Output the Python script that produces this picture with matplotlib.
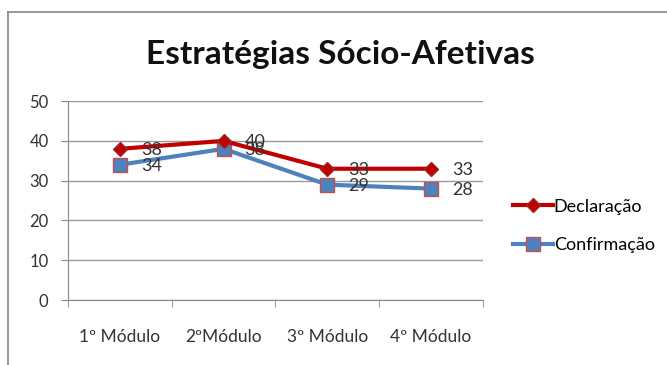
import numpy as np
import matplotlib.pyplot as plt
from matplotlib.lines import Line2D

plt.rcParams['font.family'] = ['Lato', 'DejaVu Sans']

modulos = ["1º Módulo", "2ºMódulo", "3º Módulo", "4º Módulo"]
declaracao = [38, 40, 33, 33]
confirmacao = [34, 38, 29, 28]

RED = "#C00000"
BLUE = "#4F81BD"

fig = plt.figure(figsize=(6.67, 3.65), dpi=100)
ax = fig.add_axes([0.102, 0.178, 0.622, 0.545])

x = np.arange(len(modulos))
ax.plot(x, confirmacao, color=BLUE, lw=3, marker='s', ms=10,
        mfc=BLUE, mec="#C0504D", mew=1, zorder=3)
ax.plot(x, declaracao, color=RED, lw=3, marker='D', ms=7,
        mfc=RED, mec="#9B2A2A", mew=1, zorder=4)

# value labels to the right of each point
for xi, v in zip(x, declaracao):
    ax.annotate(str(v), (xi, v), xytext=(15, -1), textcoords='offset points',
                fontsize=13, color="#333333", va='center', zorder=5)
for xi, v in zip(x, confirmacao):
    ax.annotate(str(v), (xi, v), xytext=(15, -1), textcoords='offset points',
                fontsize=13, color="#333333", va='center', zorder=5)

ax.set_xlim(-0.5, 3.5)
ax.set_ylim(0, 50)
ax.set_yticks(range(0, 51, 10))
ax.set_xticks(x)
ax.set_xticklabels(modulos)
ax.set_xticks(np.arange(-0.5, 3.6, 1), minor=True)
ax.tick_params(axis='x', which='major', length=0, pad=21, labelsize=12.5, colors="#333333")
ax.tick_params(axis='x', which='minor', length=5, color="#888888")
ax.tick_params(axis='y', length=5, color="#888888", labelsize=12, labelcolor="#333333", pad=9)
ax.grid(axis='y', color="#999999", lw=1)
ax.set_axisbelow(True)
for s in ['top', 'right']:
    ax.spines[s].set_visible(False)
for s in ['left', 'bottom']:
    ax.spines[s].set_color("#888888")

fig.text(0.51, 0.85, "Estratégias Sócio-Afetivas", ha='center', va='center',
         fontsize=24, fontweight='bold', color="#111111")

handles = [
    Line2D([], [], color=RED, lw=3, marker='D', ms=7, mfc=RED, mec="#9B2A2A"),
    Line2D([], [], color=BLUE, lw=3, marker='s', ms=10, mfc=BLUE, mec="#C0504D"),
]
fig.legend(handles, ["Declaração", "Confirmação"], loc='upper left',
           bbox_to_anchor=(0.745, 0.5), bbox_transform=fig.transFigure,
           frameon=False, fontsize=13, handlelength=2.2, handletextpad=0.05,
           labelspacing=1.25)

# outer frame of the chart area
fig.add_artist(Line2D([0.012, 0.012], [0.0, 0.967], color="#888888", lw=1.2,
                      transform=fig.transFigure))
fig.add_artist(Line2D([0.012, 1.0], [0.967, 0.967], color="#888888", lw=1.2,
                      transform=fig.transFigure))

fig.savefig("out.png", dpi=100)
